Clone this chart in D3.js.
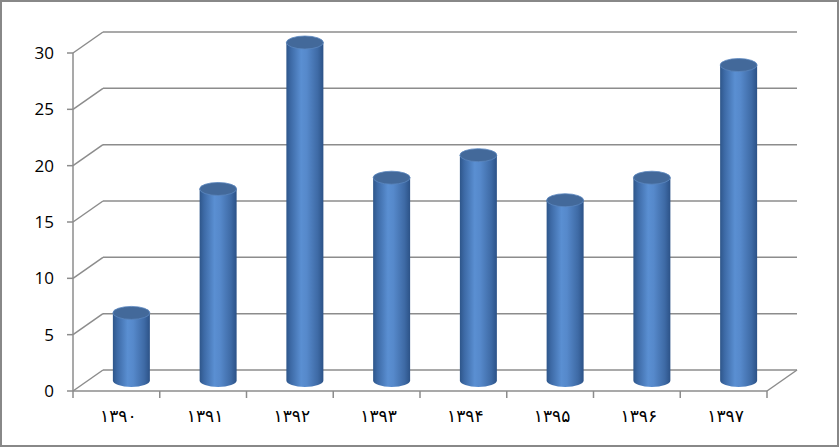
<!DOCTYPE html>
<html><head><meta charset="utf-8">
<script src="https://cdn.jsdelivr.net/npm/d3@7"></script>
<style>body{margin:0;background:#fff}</style>
</head><body>
<svg id="c" width="840" height="448"></svg>
<script>
const categories = ["۱۳۹۰","۱۳۹۱","۱۳۹۲","۱۳۹۳","۱۳۹۴","۱۳۹۵","۱۳۹۶","۱۳۹۷"];
const values = [6,17,30,18,20,16,18,28];
const yTicks = [0,5,10,15,20,25,30];

const svg = d3.select("#c");
const W=840,H=448;
const dx=30, dy=-21;
const x0=73, x1=767;
const y = d3.scaleLinear().domain([0,30]).range([391,53]);
const x = d3.scaleBand().domain(categories).range([x0,x1]).padding(0);
const grid="#8c8c8c";

svg.append("rect").attr("x",1).attr("y",1).attr("width",W-3).attr("height",H-3)
  .attr("fill","#fff").attr("stroke","#888").attr("stroke-width",2);

yTicks.forEach(t=>{
  svg.append("line").attr("x1",x0+dx).attr("x2",x1+dx).attr("y1",y(t)+dy).attr("y2",y(t)+dy)
    .attr("stroke",grid).attr("stroke-width",1.5);
  svg.append("line").attr("x1",x0).attr("x2",x0+dx).attr("y1",y(t)).attr("y2",y(t)+dy)
    .attr("stroke",grid).attr("stroke-width",1.5);
});
svg.append("line").attr("x1",x1).attr("x2",x1+dx).attr("y1",y(0)).attr("y2",y(0)+dy)
  .attr("stroke",grid).attr("stroke-width",1.5);

svg.append("line").attr("x1",x0).attr("x2",x0).attr("y1",y(30)).attr("y2",y(0))
  .attr("stroke",grid).attr("stroke-width",1.5);
yTicks.forEach(t=>{
  svg.append("line").attr("x1",x0-6).attr("x2",x0).attr("y1",y(t)).attr("y2",y(t))
    .attr("stroke",grid).attr("stroke-width",1.5);
  svg.append("text").attr("x",54).attr("y",y(t)).attr("dy","0.36em").attr("text-anchor","end")
    .attr("font-family","Open Sans, Liberation Sans, sans-serif").attr("font-size",17).attr("fill","#000").text(t);
});
svg.append("line").attr("x1",x0).attr("x2",x1).attr("y1",y(0)).attr("y2",y(0))
  .attr("stroke",grid).attr("stroke-width",1.5);
[...categories.map(c=>x(c)), x1].forEach(px=>{
  svg.append("line").attr("x1",px).attr("x2",px).attr("y1",y(0)).attr("y2",y(0)+7)
    .attr("stroke",grid).attr("stroke-width",1.5);
});
categories.forEach(c=>{
  svg.append("text").attr("x",x(c)+x.bandwidth()/2+2).attr("y",416).attr("dy","0.35em")
    .attr("text-anchor","middle").attr("font-family","DejaVu Sans, sans-serif")
    .attr("font-size",17).attr("letter-spacing","5px").attr("fill","#000").text(c);
});

const defs=svg.append("defs");
const g=defs.append("linearGradient").attr("id","cyl").attr("x1","0").attr("x2","1").attr("y1","0").attr("y2","0");
[[0,"#2e568a"],[0.12,"#3d6aa6"],[0.4,"#5a8fd2"],[0.55,"#5689cb"],[0.85,"#3e6aa5"],[1,"#2c5287"]]
 .forEach(([o,c])=>g.append("stop").attr("offset",o).attr("stop-color",c));

const rx=18.5, ry=6.5;
values.forEach((v,i)=>{
  const cx=x(categories[i])+x.bandwidth()/2+dx/2;
  const yb=y(0)+dy/2, yt=y(v)+dy/2;
  const p=`M${cx-rx},${yt} L${cx-rx},${yb} A${rx},${ry} 0 0 0 ${cx+rx},${yb} L${cx+rx},${yt} Z`;
  svg.append("path").attr("d",p).attr("fill","url(#cyl)");
  svg.append("ellipse").attr("cx",cx).attr("cy",yt).attr("rx",rx).attr("ry",ry)
    .attr("fill","#43699a").attr("stroke","#5a86bf").attr("stroke-width",0.8);
});
</script>
</body></html>
